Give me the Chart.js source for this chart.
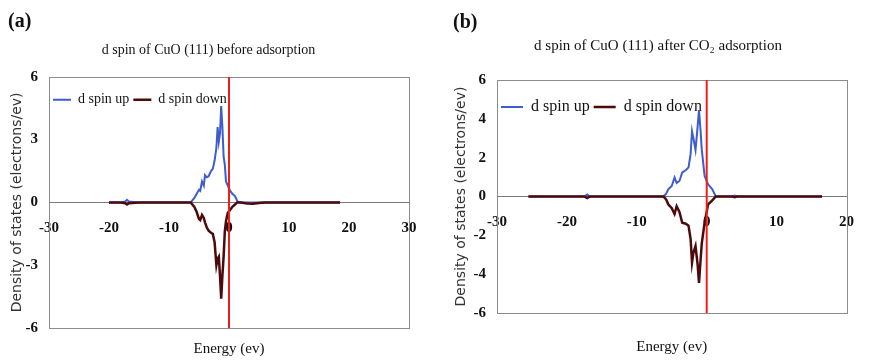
<!DOCTYPE html>
<html><head><meta charset="utf-8">
<script src="https://cdn.jsdelivr.net/npm/chart.js@4.4.1/dist/chart.umd.min.js"></script>
<style>
html,body{margin:0;padding:0;background:#fff;}
#wrap{position:relative;width:871px;height:360px;overflow:hidden;background:#fff;}
canvas{position:absolute;top:0;}
</style></head><body>
<div id="wrap">
<canvas id="ca" width="435" height="360" style="left:0px"></canvas>
<canvas id="cb" width="436" height="360" style="left:435px"></canvas>
</div>
<script>
// ---------- DATA ----------
const panelLabels = ['(a)', '(b)'];
const chartTitles = ['d spin of CuO (111) before adsorption', 'd spin of CuO (111) after CO\u2082 adsorption'];
const seriesNames = ['d spin up', 'd spin down'];
const xAxisTitle = 'Energy (ev)';
const yAxisTitle = 'Density of states (electrons/ev)';
const fermiEnergy = 0;

// Panel (a): before adsorption
const energyA   = [-20, -18, -17.3, -17, -16.7, -15, -10, -7, -6.4, -5.8, -5.4, -5.0, -4.8, -4.5, -4.2, -4.0, -3.7, -3.4, -3.0, -2.7, -2.4, -2.1, -1.9, -1.7, -1.5, -1.3, -1.1, -0.9, -0.7, -0.5, -0.2, 0.2, 0.6, 1.0, 1.4, 2.0, 3.0, 4.0, 5.0, 6.0, 8.0, 10, 15, 18.5];
const spinUpA   = [0, 0, 0.04, 0.12, 0.04, 0, 0, 0, 0, 0.2, 0.4, 0.6, 0.55, 1.0, 0.8, 1.3, 1.2, 1.25, 1.5, 1.6, 2.0, 2.6, 3.6, 2.9, 3.3, 4.6, 3.6, 2.2, 1.8, 1.0, 0.8, 0.55, 0.4, 0.3, 0.05, 0, 0, 0, 0, 0, 0, 0, 0, 0];
const spinDownA = [0, 0, -0.04, -0.1, -0.04, 0, 0, 0, 0, -0.2, -0.45, -0.8, -0.85, -0.6, -0.75, -0.95, -1.2, -1.35, -1.45, -1.5, -1.9, -3.0, -2.7, -2.6, -3.5, -4.6, -3.5, -2.6, -1.4, -0.9, -0.5, -0.35, -0.2, -0.1, 0, 0, -0.05, -0.06, -0.03, 0, 0, 0, 0, 0];
const xTicksA = [-30, -20, -10, 0, 10, 20, 30];
const yTicksA = [-6, -3, 0, 3, 6];

// Panel (b): after CO2 adsorption
const energyB   = [-25.5, -20, -17.5, -17.1, -16.7, -12, -8, -6.2, -5.8, -5.5, -5.0, -4.6, -4.3, -3.9, -3.5, -3.0, -2.6, -2.3, -2.1, -1.9, -1.6, -1.3, -1.1, -0.9, -0.7, -0.3, 0.2, 0.8, 1.3, 2.0, 3.0, 3.7, 4.0, 4.3, 6.0, 10, 16.5];
const spinUpB   = [0, 0, 0, 0.1, 0, 0, 0, 0, 0.15, 0.37, 0.54, 0.98, 0.7, 0.8, 1.24, 1.35, 1.5, 2.2, 3.36, 3.0, 2.4, 3.6, 4.45, 3.5, 2.4, 1.06, 0.63, 0.37, 0, 0, 0, 0, 0.05, 0, 0, 0, 0];
const spinDownB = [0, 0, 0, -0.08, 0, 0, 0, 0, -0.15, -0.4, -0.6, -0.9, -0.5, -0.8, -1.35, -1.4, -1.5, -2.2, -3.4, -2.9, -2.55, -3.5, -4.45, -3.4, -2.4, -1.35, -0.4, -0.2, 0, 0, 0, 0, -0.03, 0, 0, 0, 0];
const xTicksB = [-30, -20, -10, 0, 10, 20];
const yTicksB = [-6, -4, -2, 0, 2, 4, 6];

// ---------- STYLE ----------
const COLOR_UP = '#3d5ccf';
const COLOR_DOWN = '#4d0a0a';
const COLOR_FERMI = '#ee1f1b';
const SERIF = '"Liberation Serif", "Times New Roman", serif';
const SANS = '"DejaVu Sans", sans-serif';

Chart.defaults.font.family = SERIF;
Chart.defaults.color = '#111';

const framePlugin = {
  id: 'frame',
  beforeDatasetsDraw(chart) {
    const {ctx, chartArea: a} = chart;
    ctx.save();
    ctx.strokeStyle = '#8c8c8c';
    ctx.lineWidth = 1;
    ctx.strokeRect(Math.round(a.left) + 0.5, Math.round(a.top) + 0.5, Math.round(a.right - a.left), Math.round(a.bottom - a.top));
    ctx.restore();
  }
};

// keep the legend inside the plot area: it takes no layout height at the top,
// then gets its real height back before drawing
const legendInsidePlugin = {
  id: 'legendInside',
  beforeLayout(chart) {
    const lg = chart.legend;
    if (lg && !lg._inside) {
      const orig = lg.fit.bind(lg);
      lg.fit = function () { orig(); this._realHeight = this.height; this.height = 0; };
      lg._inside = true;
    }
  },
  afterLayout(chart) {
    const lg = chart.legend;
    if (lg && lg._realHeight) {
      lg.height = lg._realHeight;
      lg.bottom = lg.top + lg._realHeight;
    }
  }
};

function zip(xs, ys) { return xs.map((x, i) => ({x, y: ys[i]})); }

function makePanel(canvasId, idx, energy, up, down, xTicks, yTicks, L) {
  const xMin = xTicks[0], xMax = xTicks[xTicks.length - 1];
  const yMin = yTicks[0], yMax = yTicks[yTicks.length - 1];
  return new Chart(document.getElementById(canvasId), {
    type: 'line',
    data: {
      datasets: [
        { label: seriesNames[0], data: zip(energy, up), borderColor: COLOR_UP, backgroundColor: COLOR_UP, borderWidth: 2, pointRadius: 0, tension: 0, order: 2 },
        { label: seriesNames[1], data: zip(energy, down), borderColor: COLOR_DOWN, backgroundColor: COLOR_DOWN, borderWidth: 2.5, pointRadius: 0, tension: 0, order: 1 },
        { label: 'Fermi level', data: [{x: fermiEnergy, y: yMin}, {x: fermiEnergy, y: yMax}], borderColor: COLOR_FERMI, backgroundColor: COLOR_FERMI, borderWidth: 2, pointRadius: 0, order: 0 }
      ]
    },
    options: {
      responsive: false,
      animation: false,
      devicePixelRatio: 1,
      layout: { padding: { left: L.padLeft, right: L.padRight, top: 0, bottom: 0 } },
      scales: {
        x: {
          type: 'linear', position: { y: 0 }, min: xMin, max: xMax,
          afterBuildTicks: s => { s.ticks = xTicks.map(v => ({value: v})); },
          grid: { display: false, drawTicks: false },
          border: { display: true, color: '#7a7a7a', width: 1 },
          ticks: { padding: 17, font: { size: 15, weight: 'bold' }, color: '#111', maxRotation: 0, autoSkip: false }
        },
        x2: {
          type: 'linear', position: 'bottom', min: xMin, max: xMax,
          grid: { display: false, drawTicks: false },
          border: { display: false },
          ticks: { display: false },
          title: { display: true, text: xAxisTitle, font: { size: 15, family: SERIF }, color: '#111', padding: { top: 0, bottom: L.xTitleBottom } },
          afterFit: s => { s.height = L.bottomHeight; }
        },
        y: {
          type: 'linear', position: 'left', min: yMin, max: yMax,
          afterBuildTicks: s => { s.ticks = yTicks.map(v => ({value: v})); },
          grid: { display: false, drawTicks: false },
          border: { display: false },
          ticks: { padding: 11, font: { size: 15, weight: 'bold' }, color: '#111' },
          title: { display: true, text: yAxisTitle, font: { size: 14, family: SANS }, color: '#333', padding: { top: L.yTitleTop, bottom: 0 } },
          afterFit: s => { s.width = L.yAxisWidth; }
        }
      },
      plugins: {
        title: { display: true, text: panelLabels[idx], align: 'start', font: { size: 20, weight: 'bold', family: SERIF }, color: '#111', padding: L.titlePad },
        subtitle: { display: true, text: chartTitles[idx], align: 'center', font: { size: L.subSize, family: SERIF }, color: '#111', padding: L.subPad },
        legend: {
          display: true, position: 'top', align: 'start', fullSize: false,
          title: { display: true, text: '', font: { size: 10 }, padding: { top: L.legendTop, bottom: 0 } },
          labels: {
            filter: item => item.datasetIndex < 2,
            sort: (a, b) => a.datasetIndex - b.datasetIndex,
            usePointStyle: true, pointStyle: 'line', pointStyleWidth: L.legendLine,
            padding: 4, font: { size: L.legendSize, family: SERIF }, color: '#111'
          }
        },
        tooltip: { enabled: false }
      }
    },
    plugins: [framePlugin, legendInsidePlugin]
  });
}

makePanel('ca', 0, energyA, spinUpA, spinDownA, xTicksA, yTicksA, {
  padLeft: 8, padRight: 26, yAxisWidth: 41, bottomHeight: 32, xTitleBottom: 2, yTitleTop: 1,
  titlePad: { top: 10, bottom: 0 }, subSize: 14, subPad: { top: 8, bottom: 18 },
  legendTop: 0, legendSize: 14, legendLine: 18
});
makePanel('cb', 1, energyB, spinUpB, spinDownB, xTicksB, yTicksB, {
  padLeft: 18, padRight: 8, yAxisWidth: 44, bottomHeight: 47, xTitleBottom: 4, yTitleTop: 0,
  titlePad: { top: 11, bottom: 0 }, subSize: 15, subPad: { top: 2, bottom: 25 },
  legendTop: 3, legendSize: 16, legendLine: 22
});
</script>
</body></html>
